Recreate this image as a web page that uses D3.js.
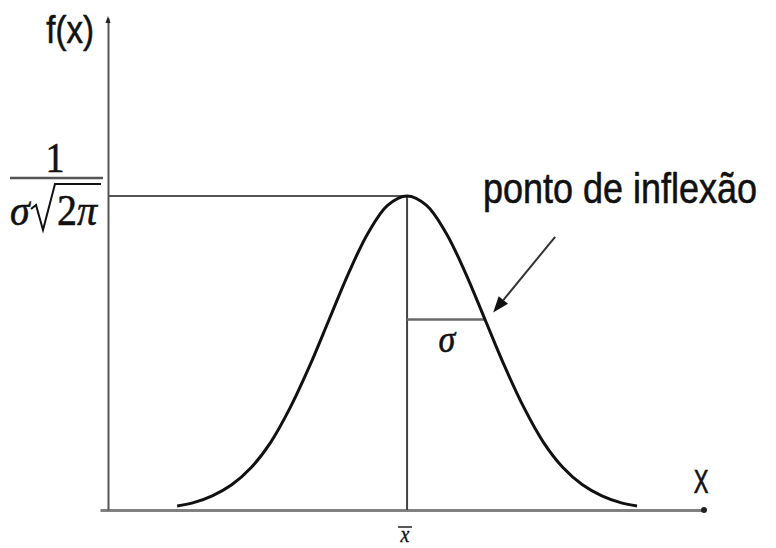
<!DOCTYPE html>
<html>
<head>
<meta charset="utf-8">
<script src="https://cdn.jsdelivr.net/npm/d3@7"></script>
<style>
  html, body { margin: 0; padding: 0; background: #fff; }
  svg { display: block; }
</style>
</head>
<body>
<svg id="chart" width="776" height="548"></svg>
<script>
// Standard normal curve, in units of sigma around the mean
const zValues = [-2.95, -2.75, -2.5, -2.25, -2, -1.75, -1.5, -1.25, -1, -0.75, -0.5, -0.25, 0,
                 0.25, 0.5, 0.75, 1, 1.25, 1.5, 1.75, 2, 2.25, 2.5, 2.75, 2.95];
const densityValues = [0.005, 0.009, 0.018, 0.032, 0.054, 0.086, 0.130, 0.183, 0.242, 0.301, 0.352, 0.387, 0.399,
                       0.387, 0.352, 0.301, 0.242, 0.183, 0.130, 0.086, 0.054, 0.032, 0.018, 0.009, 0.005];
const peakDensity = 0.399;      // 1 / (sigma * sqrt(2*pi)) with sigma = 1
const sigmaDensity = 0.242;     // density one sigma from the mean
const xDomain = [-3.94, 3.81];
const yDomain = [0, 0.625];

// Annotation labels
const yAxisLabel = "f(x)";
const xAxisLabel = "X";
const inflectionLabel = "ponto de inflexão";
const sigmaLabel = "σ";
const meanLabel = "x";

const svg = d3.select("#chart");

const x = d3.scaleLinear().domain(xDomain).range([100, 704]);
const y = d3.scaleLinear().domain(yDomain).range([510, 18]);
const yAxisX = 108;

// X axis
svg.append("g")
  .attr("transform", `translate(0,${y(0)})`)
  .call(d3.axisBottom(x).tickValues([]).tickSizeOuter(0))
  .call(g => g.select(".domain").attr("stroke", "#808080").attr("stroke-width", 3));
svg.append("circle")
  .attr("cx", x(xDomain[1])).attr("cy", y(0)).attr("r", 3).attr("fill", "#222");

// Y axis
svg.append("g")
  .attr("transform", `translate(${yAxisX},0)`)
  .call(d3.axisLeft(y).tickValues([]).tickSizeOuter(0))
  .call(g => g.select(".domain").attr("stroke", "#555").attr("stroke-width", 2));
svg.append("path")
  .attr("d", `M${yAxisX},${y(yDomain[1]) - 2} l-2.5,7 l5,0 Z`)
  .attr("fill", "#222");

// Peak level guide and mean line
svg.append("line")
  .attr("x1", yAxisX).attr("x2", x(0))
  .attr("y1", y(peakDensity)).attr("y2", y(peakDensity))
  .attr("stroke", "#555").attr("stroke-width", 2);
svg.append("line")
  .attr("x1", x(0)).attr("x2", x(0))
  .attr("y1", y(peakDensity)).attr("y2", y(0))
  .attr("stroke", "#444").attr("stroke-width", 2);

// Sigma width at the inflection point
svg.append("line")
  .attr("x1", x(0)).attr("x2", x(1))
  .attr("y1", y(sigmaDensity)).attr("y2", y(sigmaDensity))
  .attr("stroke", "#6a6a6a").attr("stroke-width", 2.5);

// Bell curve
const line = d3.line()
  .x((d, i) => x(zValues[i]))
  .y(d => y(d))
  .curve(d3.curveCatmullRom.alpha(0.5));
svg.append("path")
  .datum(densityValues)
  .attr("d", line)
  .attr("fill", "none")
  .attr("stroke", "#111")
  .attr("stroke-width", 3);

// Arrow pointing to the inflection point
const tail = [x(1.9), y(0.347)];
const tip = [x(1.105), y(0.251)];
const ang = Math.atan2(tip[1] - tail[1], tip[0] - tail[0]);
const headLen = 16, headW = 6;
const base = [tip[0] - headLen * Math.cos(ang), tip[1] - headLen * Math.sin(ang)];
svg.append("line")
  .attr("x1", tail[0]).attr("y1", tail[1])
  .attr("x2", base[0]).attr("y2", base[1])
  .attr("stroke", "#333").attr("stroke-width", 2);
svg.append("path")
  .attr("d", `M${tip[0]},${tip[1]}
              L${base[0] + headW * Math.sin(ang)},${base[1] - headW * Math.cos(ang)}
              L${base[0] - headW * Math.sin(ang)},${base[1] + headW * Math.cos(ang)} Z`)
  .attr("fill", "#111");

// Text labels
const sans = "'Liberation Sans', Arial, sans-serif";
const serif = "'Liberation Serif', 'Times New Roman', serif";

function label(txt, px, py, opts) {
  return svg.append("text")
    .attr("transform", `translate(${px},${py}) scale(${opts.sx || 1},${opts.sy || 1})`)
    .attr("font-family", opts.family)
    .attr("font-size", opts.size)
    .attr("font-style", opts.italic ? "italic" : "normal")
    .attr("text-anchor", opts.anchor || "start")
    .attr("fill", opts.fill || "#111")
    .attr("stroke", opts.fill || "#111")
    .attr("stroke-width", opts.weight || 0.5)
    .text(txt);
}

label(yAxisLabel, 94, 43, { family: sans, size: 33, anchor: "end", sy: 1.15 });
label(xAxisLabel, 701, 493, { family: sans, size: 26, anchor: "middle", sx: 0.85, sy: 1.3 });
label(inflectionLabel, 483, 203, { family: sans, size: 36, sy: 1.18 });
label(sigmaLabel, 447, 352, { family: serif, size: 34, italic: true, anchor: "middle", sy: 1.1 });

// Mean symbol x̄
label(meanLabel, 405, 542, { family: serif, size: 20, italic: true, anchor: "middle", sy: 1.2, weight: 0.3 });
svg.append("line")
  .attr("x1", 398).attr("x2", 412).attr("y1", 527).attr("y2", 527)
  .attr("stroke", "#222").attr("stroke-width", 1.5);

// Peak value 1 / (σ√2π)
label("1", 55, 172, { family: serif, size: 38, anchor: "middle", sy: 1.1 });
svg.append("line")
  .attr("x1", 10).attr("x2", 103).attr("y1", 178).attr("y2", 178)
  .attr("stroke", "#555").attr("stroke-width", 2.5);
label("σ", 10, 225, { family: serif, size: 40, italic: true, sy: 1.12 });
svg.append("path")
  .attr("d", "M31,209 L36,205 L43,230 L55,184 L101,184")
  .attr("fill", "none").attr("stroke", "#111").attr("stroke-width", 2)
  .attr("stroke-linejoin", "miter");
label("2", 57, 225, { family: serif, size: 40, sy: 1.12 });
label("π", 77, 225, { family: serif, size: 40, italic: true, sy: 1.12 });
</script>
</body>
</html>
